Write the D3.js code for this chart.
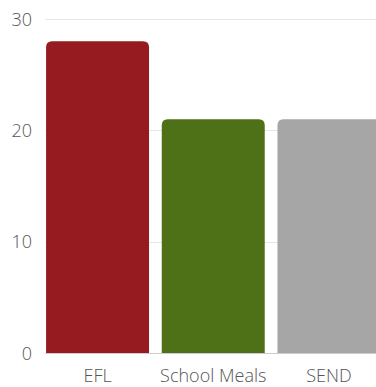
<!DOCTYPE html>
<html><head><meta charset="utf-8">
<script src="https://cdn.jsdelivr.net/npm/d3@7"></script>
<style>html,body{margin:0;padding:0;background:#fff;overflow:hidden}</style>
</head><body>
<svg id="c" width="376" height="387"></svg>
<script>
const categories = ["EFL", "School Meals", "SEND"];
const values = [28, 21, 21];
const colors = ["#961b20", "#4e7118", "#a6a6a6"];
const yTicks = [0, 10, 20, 30];

const svg = d3.select("#c");
const x = d3.scaleBand().domain(categories).range([45.5, 381]).paddingInner(0.11).paddingOuter(0.005);
const y = d3.scaleLinear().domain([0, 30]).range([353, 19]);

// gridlines
svg.append("g").selectAll("line").data(yTicks.filter(d => d > 0)).join("line")
  .attr("x1", 45).attr("x2", 376)
  .attr("y1", d => Math.round(y(d)) + 0.5).attr("y2", d => Math.round(y(d)) + 0.5)
  .attr("stroke", "#e6e6e6").attr("stroke-width", 1);

// y labels
svg.append("g").selectAll("text").data(yTicks).join("text")
  .attr("x", 32).attr("y", d => y(d) + 6.5)
  .attr("text-anchor", "end")
  .attr("font-family", "'Open Sans', sans-serif").attr("font-size", 18).attr("font-weight", 300)
  .attr("fill", "#555").text(d => d);

// bars with rounded top corners
const r = 6;
svg.append("g").selectAll("path").data(categories).join("path")
  .attr("fill", (d, i) => colors[i])
  .attr("d", (d, i) => {
    const x0 = x(d), w = x.bandwidth(), y0 = y(values[i]), yb = y(0);
    return `M${x0},${yb}V${y0 + r}Q${x0},${y0} ${x0 + r},${y0}H${x0 + w - r}Q${x0 + w},${y0} ${x0 + w},${y0 + r}V${yb}Z`;
  });

// baseline
svg.append("line").attr("x1", 45).attr("x2", 376)
  .attr("y1", 353.5).attr("y2", 353.5).attr("stroke", "#cccccc").attr("stroke-width", 1);

// x labels
svg.append("g").selectAll("text").data(categories).join("text")
  .attr("x", d => x(d) + x.bandwidth() / 2).attr("y", 382)
  .attr("text-anchor", "middle")
  .attr("font-family", "'Open Sans', sans-serif").attr("font-size", 18).attr("font-weight", 300)
  .attr("fill", "#555").text(d => d);
</script>
</body></html>
